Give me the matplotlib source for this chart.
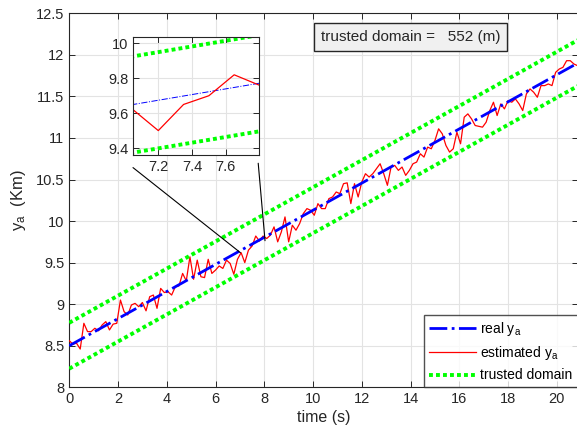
import numpy as np
import matplotlib
matplotlib.use("Agg")
import matplotlib.pyplot as plt
from matplotlib.patches import ConnectionPatch

plt.rcParams['font.family'] = ['Liberation Sans', 'DejaVu Sans']
plt.rcParams['mathtext.default'] = 'regular'

# ---- data ----
dt = 0.15
n_samples = 140
time = np.round(np.arange(n_samples) * dt, 2)

real_t = [0.0, 20.85]
real_y = [8.5, 11.90]
upper_y = [8.776, 12.176]
lower_y = [8.224, 11.624]

est_y = [
    8.56, 8.52, 8.53, 8.46, 8.77, 8.67, 8.67, 8.71, 8.68, 8.75,
    8.79, 8.69, 8.76, 8.77, 9.05, 8.91, 8.87, 8.99, 9.01, 8.97,
    9.02, 8.92, 9.09, 9.11, 8.95, 9.19, 9.14, 9.15, 9.11, 9.21,
    9.22, 9.37, 9.28, 9.57, 9.30, 9.53, 9.33, 9.32, 9.54, 9.37,
    9.41, 9.46, 9.43, 9.53, 9.49, 9.36, 9.54, 9.62, 9.50, 9.65,
    9.70, 9.82, 9.76, 9.82, 9.79, 9.83, 9.93, 9.75, 9.87, 10.05,
    9.75, 9.95, 9.89, 9.97,
    10.09, 10.15, 10.13, 10.07, 10.21, 10.15, 10.15, 10.27, 10.29, 10.35,
    10.33, 10.45, 10.46, 10.21, 10.45, 10.29, 10.47, 10.57, 10.53, 10.57,
    10.63, 10.69, 10.57, 10.43, 10.65, 10.67, 10.61, 10.65, 10.55, 10.61,
    10.69, 10.71, 10.81, 10.77, 10.89, 10.87, 10.97, 11.11, 11.05, 10.91,
    10.83, 10.87, 11.07, 10.93, 11.25, 11.29, 11.23, 11.15, 11.14, 11.13,
    11.19, 11.33, 11.43, 11.27, 11.41, 11.35, 11.45, 11.43, 11.47, 11.41,
    11.33, 11.53, 11.59, 11.55, 11.49, 11.63, 11.63, 11.65, 11.63, 11.79,
    11.83, 11.85, 11.93, 11.93, 11.89, 11.87,
]

xticks = [0, 2, 4, 6, 8, 10, 12, 14, 16, 18, 20]
yticks = [8, 8.5, 9, 9.5, 10, 10.5, 11, 11.5, 12, 12.5]
inset_xticks = [7.2, 7.4, 7.6]
inset_yticks = [9.4, 9.6, 9.8, 10]
trusted_domain_m = 552

# ---- styling ----
dark = '#262626'
grid_c = '#e3e3e3'
green = '#00ff00'
dots = (0, (1.0, 0.8))

fig = plt.figure(figsize=(5.77, 4.38), dpi=100)
ax = fig.add_axes([0.1200, 0.1158, 0.8810, 0.8538])


def style(a, fs):
    a.grid(True, color=grid_c, linewidth=0.8)
    a.set_axisbelow(True)
    a.tick_params(direction='in', top=True, right=True, labelsize=fs,
                  colors=dark, length=4, width=0.7)
    for s in a.spines.values():
        s.set_color(dark)
        s.set_linewidth(0.8)


ax.plot(real_t, real_y, linestyle='-.', color='blue', linewidth=2.0,
        label=r'real y$_{a}$', zorder=4)
ax.plot(time, est_y, color='red', linewidth=0.9,
        label=r'estimated y$_{a}$', zorder=3)
ax.plot(real_t, upper_y, linestyle=dots, color=green, linewidth=2.8,
        label='trusted domain', zorder=3)
ax.plot(real_t, lower_y, linestyle=dots, color=green, linewidth=2.8, zorder=3)

ax.set_xlim(0, 20.85)
ax.set_ylim(8, 12.5)
ax.set_xticks(xticks)
ax.set_yticks(yticks)
ax.set_yticklabels([('%g' % v) for v in yticks])
style(ax, 10.5)
ax.set_xlabel('time (s)', fontsize=11.5, color=dark, labelpad=3)
ax.set_ylabel(r'y$_{a}$  (Km)', fontsize=12, color=dark, labelpad=6)

leg = ax.legend(loc='lower right', bbox_to_anchor=(1.0, 0.0),
                borderaxespad=0.0, fontsize=10, frameon=True, fancybox=False,
                handlelength=3.4, handletextpad=0.3, labelspacing=0.45,
                borderpad=0.35)
leg.get_frame().set_edgecolor(dark)
leg.get_frame().set_linewidth(1.0)

ax.text(0.672, 0.937, 'trusted domain =   %d (m)' % trusted_domain_m,
        transform=ax.transAxes, ha='center', va='center', fontsize=11,
        color=dark,
        bbox=dict(boxstyle='square,pad=0.45', facecolor='#f0f0f0',
                  edgecolor=dark, linewidth=1.0), zorder=6)

# ---- inset ----
ins = fig.add_axes([0.2305, 0.6461, 0.2192, 0.2687])
ins.plot(real_t, real_y, linestyle='-.', color='blue', linewidth=0.7)
ins.plot(time, est_y, color='red', linewidth=0.9)
ins.plot(real_t, upper_y, linestyle=dots, color=green, linewidth=2.8)
ins.plot(real_t, lower_y, linestyle=dots, color=green, linewidth=2.8)
ins.set_xlim(7.05, 7.8)
ins.set_ylim(9.36, 10.035)
ins.set_xticks(inset_xticks)
ins.set_yticks(inset_yticks)
ins.set_yticklabels([('%g' % v) for v in inset_yticks])
style(ins, 10.5)
ins.set_facecolor('white')

for xa, ya, xb, yb in [(0.0, -0.107, 7.02, 9.62), (0.99, -0.07, 8.03, 9.764)]:
    con = ConnectionPatch(xyA=(xa, ya), coordsA=ins.transAxes,
                          xyB=(xb, yb), coordsB=ax.transData,
                          color='black', linewidth=0.8, zorder=5)
    fig.add_artist(con)

fig.savefig('out.png', dpi=100)
